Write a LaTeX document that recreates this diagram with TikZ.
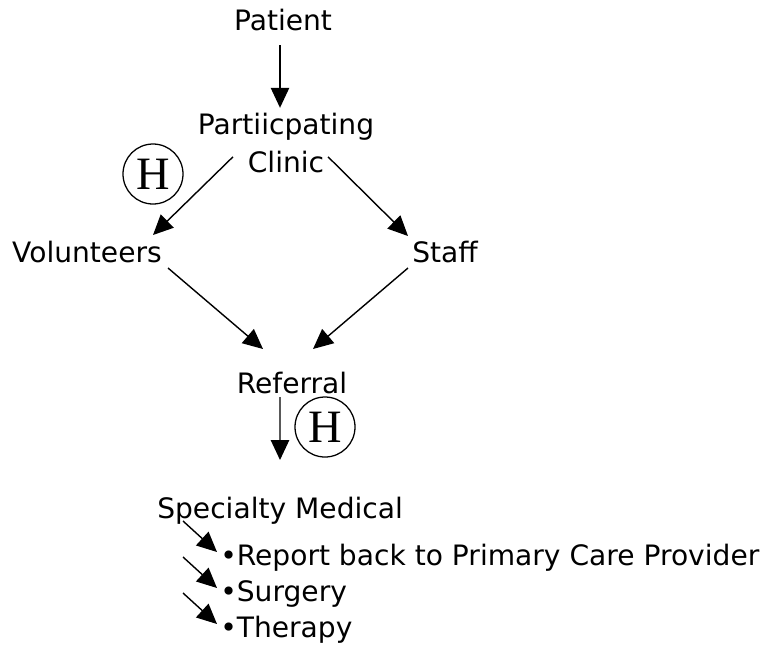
\documentclass[tikz,border=0pt]{standalone}
\usepackage{fontspec}
\setmainfont{DejaVu Sans}
\newfontfamily\hfont{Liberation Serif}
\usetikzlibrary{arrows.meta}

\begin{document}
\begin{tikzpicture}[
    lbl/.style={inner sep=0pt, font=\fontsize{20}{27}\selectfont},
    hmark/.style={circle, draw, line width=0.9pt, minimum size=1.5cm, inner sep=0pt, font=\hfont\fontsize{33}{33}\selectfont},
    arr/.style={line width=1pt, -{Triangle[length=5mm,width=4.6mm]}}
  ]
    \useasboundingbox (0,0) rectangle (19.35,-16.3);

    \node[lbl, anchor=base] (patient) at (7.075,-0.75) {Patient};
    \node[lbl, align=center] (clinic) at (7.15,-3.57) {Partiicpating\\Clinic};
    \node[lbl, anchor=base] (volunteers) at (2.175,-6.55) {Volunteers};
    \node[lbl, anchor=base] (staff) at (11.125,-6.55) {Staff};
    \node[lbl, anchor=base] (referral) at (7.3,-9.825) {Referral};
    \node[lbl, anchor=base west] (specialty) at (3.925,-12.95) {Specialty Medical};

    \node[hmark] (h1) at (3.825,-4.35) {H};
    \node[hmark] (h2) at (8.125,-10.675) {H};

    \draw[arr] ([xshift=-0.075cm,yshift=-0.375cm]patient.base) -- ([xshift=-0.15cm,yshift=0.875cm]clinic.center);
    \draw[arr] ([xshift=-1.325cm,yshift=-0.35cm]clinic.center) -- ([xshift=1.65cm,yshift=0.675cm]volunteers.base);
    \draw[arr] ([xshift=1.05cm,yshift=-0.35cm]clinic.center) -- ([xshift=-0.925cm,yshift=0.65cm]staff.base);
    \draw[arr] ([xshift=2.025cm,yshift=-0.15cm]volunteers.base) -- ([xshift=-0.725cm,yshift=1.1cm]referral.base);
    \draw[arr] ([xshift=-0.925cm,yshift=-0.15cm]staff.base) -- ([xshift=0.525cm,yshift=1.1cm]referral.base);
    \draw[arr] ([xshift=-0.3cm,yshift=-0.1cm]referral.base) -- ([xshift=3.075cm,yshift=1.45cm]specialty.base west);

    % list under specialty medical
    \foreach \t [count=\i] in {Report back to Primary Care Provider, Surgery, Therapy}{
        \node[lbl, anchor=base west] (item\i) at (5.5,{-14.125-0.9*(\i-1)}) {•\t};
        \draw[arr] ([xshift=-0.925cm,yshift=1.1cm]item\i.base west) -- ([xshift=-0.075cm,yshift=0.325cm]item\i.base west);
    }
\end{tikzpicture}
\end{document}
